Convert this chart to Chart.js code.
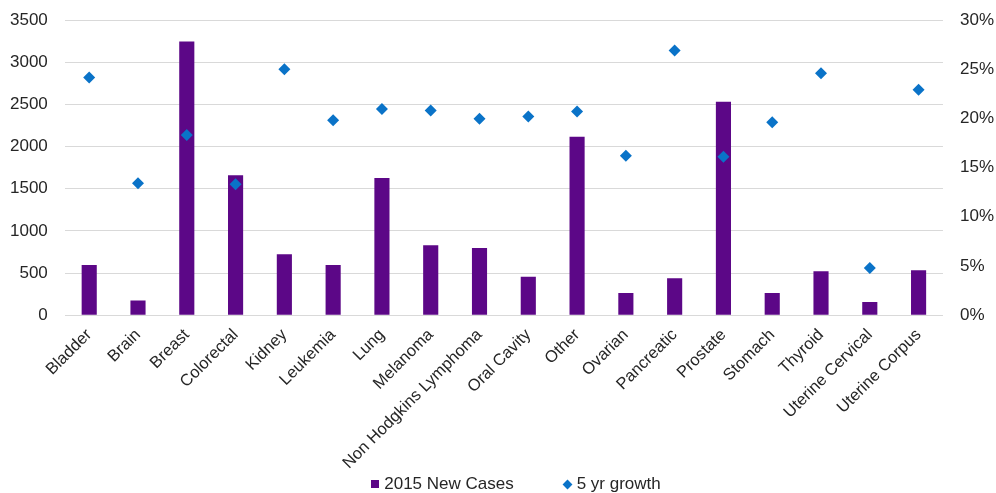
<!DOCTYPE html>
<html>
<head>
<meta charset="utf-8">
<script src="https://cdn.jsdelivr.net/npm/chart.js@4/dist/chart.umd.min.js"></script>
<style>
  html, body { margin: 0; padding: 0; background: #fff; }
  #wrap { position: relative; width: 996px; height: 493px; }
  #legend {
    position: absolute; left: 0; right: 0; top: 474px; padding-left: 36px;
    display: flex; justify-content: center; gap: 48px;
    font: 17px "Liberation Sans", Arial, sans-serif; color: #262626;
  }
  #legend span.item { display: flex; align-items: center; }
  .sq { width: 8px; height: 8px; background: #5c0787; margin-right: 5px; }
  .dm { width: 7px; height: 7px; background: #0a73c8; transform: rotate(45deg); margin-right: 6px; margin-left: 2px; }
</style>
</head>
<body>
<div id="wrap">
  <canvas id="chart" width="996" height="493"></canvas>
  <div id="legend">
    <span class="item"><span class="sq"></span>2015 New Cases</span>
    <span class="item"><span class="dm"></span>5 yr growth</span>
  </div>
</div>
<script>
// Chart data
const categories = ['Bladder', 'Brain', 'Breast', 'Colorectal', 'Kidney', 'Leukemia', 'Lung', 'Melanoma',
  'Non Hodgkins Lymphoma', 'Oral Cavity', 'Other', 'Ovarian', 'Pancreatic', 'Prostate', 'Stomach',
  'Thyroid', 'Uterine Cervical', 'Uterine Corpus'];
const newCases = [595, 175, 3245, 1660, 722, 595, 1627, 830, 798, 456, 2115, 262, 437, 2532, 262, 520, 155, 532];
const growth = [0.2415, 0.134, 0.183, 0.133, 0.250, 0.198, 0.2095, 0.208, 0.1997, 0.202, 0.207, 0.162, 0.269, 0.161, 0.196, 0.246, 0.048, 0.229];
const seriesNames = ['2015 New Cases', '5 yr growth'];

const barColor = '#5c0787';
const dotColor = '#0a73c8';
const textColor = '#262626';
const gridColor = '#d9d9d9';
const fontFamily = '"Liberation Sans", Arial, sans-serif';
const tickFont = { family: fontFamily, size: 17 };

// drop the extra top/bottom padding Chart.js reserves around value axes
const trimPadding = scale => { scale.paddingTop = 0; scale.paddingBottom = 0; };

const ctx = document.getElementById('chart').getContext('2d');
new Chart(ctx, {
  type: 'bar',
  data: {
    labels: categories,
    datasets: [
      {
        type: 'bar',
        label: seriesNames[0],
        data: newCases,
        backgroundColor: barColor,
        yAxisID: 'y',
        categoryPercentage: 1,
        barPercentage: 0.31,
        order: 2,
      },
      {
        type: 'line',
        label: seriesNames[1],
        data: growth,
        showLine: false,
        pointStyle: 'rectRot',
        pointRadius: 6,
        pointBackgroundColor: dotColor,
        pointBorderColor: dotColor,
        pointBorderWidth: 0,
        yAxisID: 'y1',
        order: 1,
      },
    ],
  },
  options: {
    responsive: false,
    animation: false,
    layout: { padding: { left: -7, right: -15, top: 20, bottom: 18 } },
    plugins: {
      legend: { display: false },
      tooltip: { enabled: false },
    },
    scales: {
      x: {
        grid: { display: false },
        border: { display: false },
        ticks: {
          autoSkip: false,
          minRotation: 45,
          maxRotation: 45,
          color: textColor,
          font: { family: fontFamily, size: 16.5 },
          padding: 2,
        },
        // let the rotated labels hang into the left margin like the original
        afterFit: scale => { scale.paddingLeft = 0; scale.paddingRight = 0; },
      },
      y: {
        position: 'left',
        min: 0,
        max: 3500,
        ticks: { stepSize: 500, color: textColor, font: tickFont, padding: 17, callback: v => String(v) },
        grid: { color: gridColor, drawTicks: false },
        border: { display: false },
        afterFit: trimPadding,
      },
      y1: {
        position: 'right',
        min: 0,
        max: 0.3,
        ticks: {
          stepSize: 0.05,
          color: textColor,
          font: tickFont,
          padding: 17,
          callback: v => Math.round(v * 100) + '%',
        },
        grid: { drawOnChartArea: false, drawTicks: false },
        border: { display: false },
        afterFit: trimPadding,
      },
    },
  },
});
</script>
</body>
</html>
